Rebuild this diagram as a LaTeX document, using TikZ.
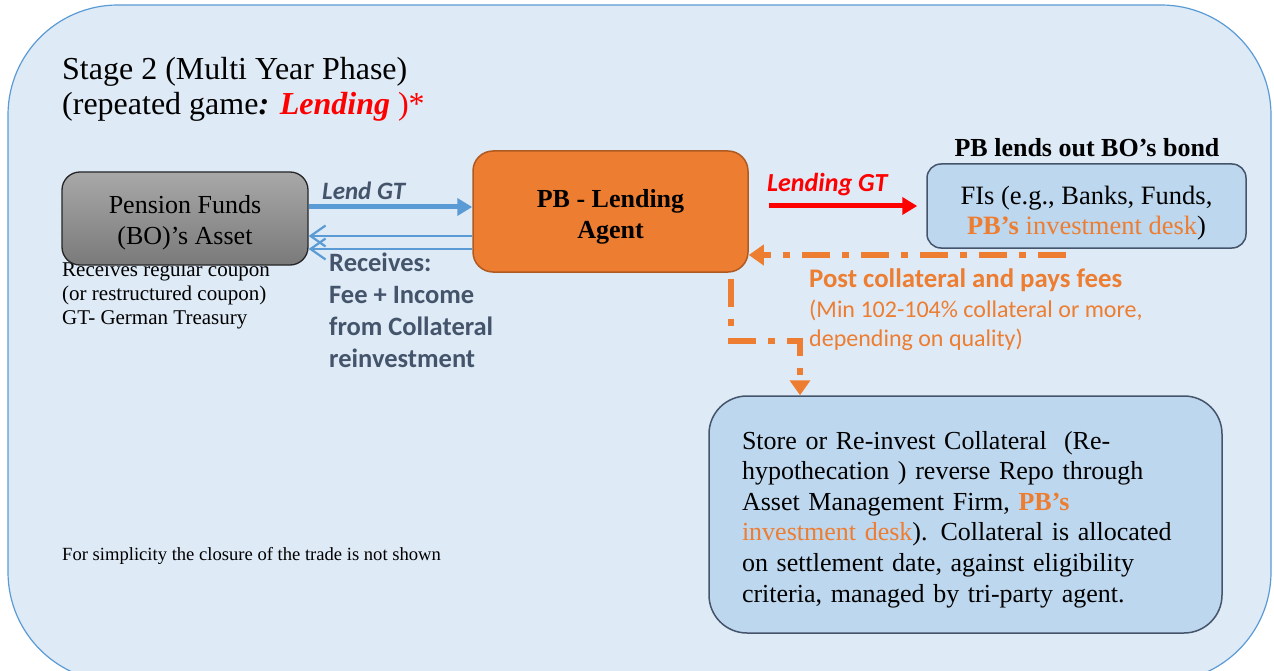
\documentclass[tikz,border=0pt]{standalone}
\usepackage{fontspec}
\setmainfont{Liberation Serif}
\newfontfamily\calib{Carlito}
\usetikzlibrary{arrows.meta,calc}
\definecolor{bgfill}{RGB}{222,234,246}
\definecolor{bgline}{RGB}{91,155,213}
\definecolor{pbfill}{RGB}{237,125,49}
\definecolor{pbline}{RGB}{174,90,33}
\definecolor{fifill}{RGB}{189,215,238}
\definecolor{filine}{RGB}{68,84,106}
\definecolor{slate}{RGB}{68,84,106}
\definecolor{arrblue}{RGB}{91,155,213}
\definecolor{orng}{RGB}{237,125,49}
\definecolor{gtop}{RGB}{168,168,168}
\definecolor{gbot}{RGB}{122,122,122}
\newcommand{\htstrut}[1]{\rule{0pt}{#1}}
\begin{document}
\begin{tikzpicture}[x=1pt,y=-1pt,
  rbox/.style={draw, rounded corners=#1, inner sep=0pt, align=center},
  serif26/.style={font=\fontsize{26}{31}\selectfont},
  bluearrow/.style={draw=arrblue, line width=5pt, -{Triangle[length=15pt,width=17pt]}},
  thinarrow/.style={draw=arrblue, line width=2.2pt, -{Straight Barb[length=15pt,width=21pt,line width=2.2pt]}},
  redarrow/.style={draw=red, line width=5pt, -{Triangle[length=15pt,width=17pt]}},
  orarrow/.style={draw=orng, line width=5.5pt, dash pattern=on 28pt off 12pt on 7pt off 12pt, -{Triangle[length=15pt,width=20pt]}},
  lbl/.style={inner sep=0pt, anchor=base west, align=left}]
\useasboundingbox (0,0) rectangle (1274,671);
% background
\draw[draw=bgline, fill=bgfill, line width=1.2pt, rounded corners=110pt] (8,5) rectangle (1271,682);

% title (base anchor = last line)
\node[lbl, font=\fontsize{32}{35}\selectfont] (title) at (62,115)
  {Stage 2 (Multi Year Phase)\\(repeated game\textbf{\textit{:}} \textcolor{red}{\textbf{\textit{Lending}} )*}};

% text under pension box (drawn before the box)
\node[lbl, font=\fontsize{21}{24}\selectfont] (pfnote) at (62,324)
  {Receives regular coupon\\(or restructured coupon)\\GT- German Treasury};

% boxes
\node[rbox=18pt, draw=black!85, line width=1.3pt, top color=gtop, bottom color=gbot,
  minimum width=246pt, minimum height=93pt, serif26] (pf) at (185,218.5)
  {\htstrut{26pt}Pension Funds\\(BO)'s Asset};
\node[rbox=20pt, draw=pbline, fill=pbfill, line width=1.5pt,
  minimum width=275pt, minimum height=121pt, font=\fontsize{26}{30.5}\selectfont\bfseries] (pb) at (610.5,211.5)
  {\htstrut{29pt}PB - Lending\\Agent};
\node[rbox=14pt, draw=filine, fill=fifill, line width=1.5pt,
  minimum width=319pt, minimum height=84pt, font=\fontsize{26.5}{30.5}\selectfont] (fi) at (1086.5,206)
  {\htstrut{33pt}FIs (e.g., Banks, Funds,\\\textcolor{orng}{\textbf{PB's} investment desk})};
\node[rbox=38pt, draw=filine, fill=fifill, line width=1.5pt, align=left, text width=447pt,
  minimum width=513pt, minimum height=237pt, font=\fontsize{26}{30.6}\selectfont] (st) at (965.5,514.5)
  {\htstrut{28pt}Store or Re-invest Collateral\ \ (Re-\\hypothecation ) reverse Repo through\\Asset Management Firm, \textcolor{orng}{\textbf{PB's}}\\\textcolor{orng}{investment desk}). Collateral is allocated\\on settlement date, against eligibility\\criteria, managed by tri-party agent.};

% headings / labels
\node[inner sep=0pt, anchor=base, font=\fontsize{26}{30}\selectfont\bfseries] (fihead) at (1087,157) {PB lends out BO's bond};
\node[lbl, font=\calib\fontsize{25}{28}\selectfont\bfseries\itshape, text=slate] (lendgt) at (322,200) {Lend GT};
\node[lbl, font=\calib\fontsize{26.5}{32}\selectfont\bfseries, text=slate] (recv) at (329,367)
  {Receives:\\Fee + Income\\from Collateral\\reinvestment};
\node[lbl, font=\calib\fontsize{26}{28}\selectfont\bfseries\itshape, text=red] (lendinggt) at (767,192) {Lending GT};
\node[lbl, font=\calib\fontsize{26.8}{30}\selectfont\bfseries, text=orng] (post) at (809,287) {Post collateral and pays fees};
\node[lbl, font=\calib\fontsize{24}{29}\selectfont, text=orng] (postnote) at (809,346)
  {(Min 102-104\% collateral or more,\\depending on quality)};
\node[lbl, font=\fontsize{18.6}{20}\selectfont] (simp) at (62,560) {For simplicity the closure of the trade is not shown};

% connectors
\draw[bluearrow] ([yshift=11.5pt]pf.east) -- ([yshift=4.5pt]pb.west);
\draw[thinarrow] ([yshift=-24.5pt]pb.west) -- ([yshift=-17.5pt]pf.east);
\draw[thinarrow] ([yshift=-37.5pt]pb.west) -- ([yshift=-30.5pt]pf.east);
\draw[redarrow] ([xshift=20pt,yshift=5.5pt]pb.east) -- ([xshift=-9pt]fi.west);
\coordinate (fistart) at (1066,255);
\draw[orarrow] (fistart) -- ([yshift=-43.5pt]pb.east);
\coordinate (pbd) at ([xshift=-18pt,yshift=-6pt]pb.south east);
\coordinate (bend) at (0,341);
\coordinate (sti) at ([xshift=-165.5pt]st.north);
\draw[orarrow] (pbd) -- (pbd |- bend) -| (sti);
\end{tikzpicture}
\end{document}
